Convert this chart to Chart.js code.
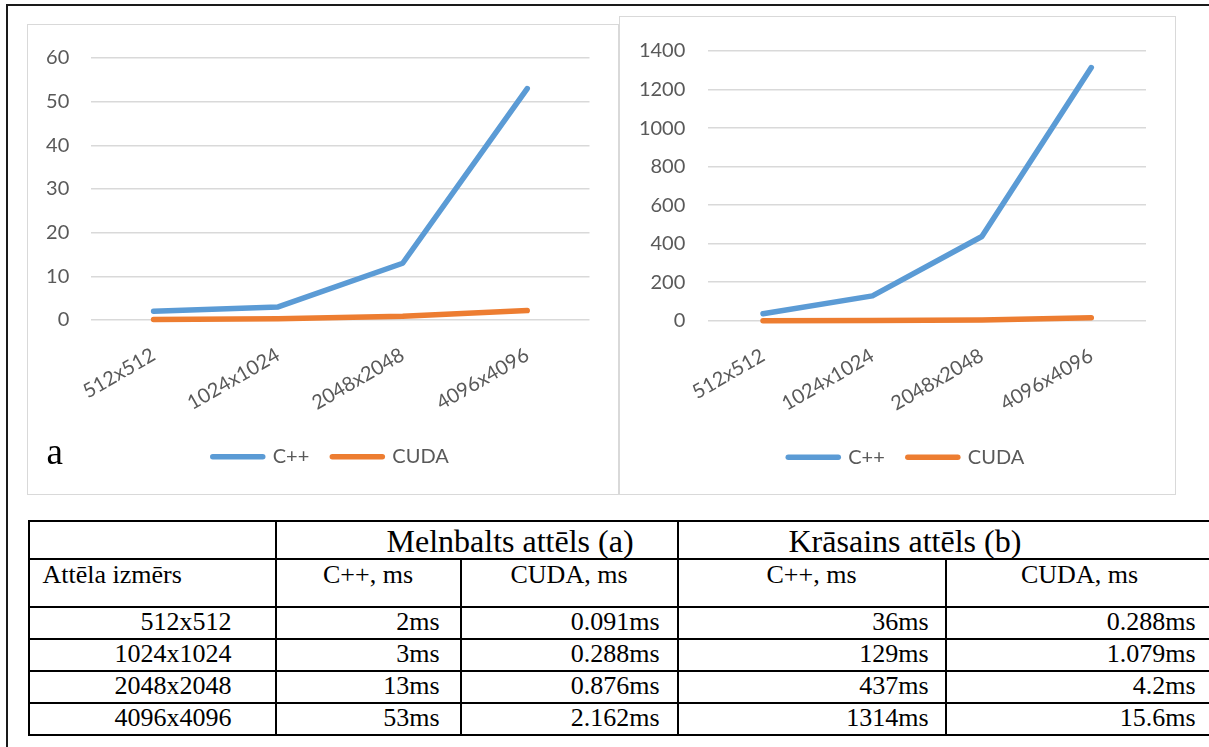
<!DOCTYPE html>
<html>
<head>
<meta charset="utf-8">
<script src="https://cdn.jsdelivr.net/npm/chart.js@4.4.0/dist/chart.umd.min.js"></script>
<style>
  html, body { margin: 0; padding: 0; background: #fff; overflow: hidden; width: 1209px; height: 747px; }
  .outer { position: absolute; left: 6px; top: 4px; width: 1300px; height: 800px; border-left: 2px solid #1a1a1a; border-top: 2px solid #1a1a1a; }
  .frame { position: absolute; box-sizing: border-box; border: 1.5px solid #d9d9d9; background: #fff; }
  .cv { position: absolute; }
  .tag { position: absolute; left: 46.5px; top: 433px; font: 37px/37px "Liberation Serif", "Times New Roman", serif; color: #000; }
  table { position: absolute; left: 27.5px; top: 520px; width: 1185px; border-collapse: collapse; table-layout: fixed; font-family: "Liberation Serif", "Times New Roman", serif; color: #000; }
  td { border: 2px solid #000; padding: 0; vertical-align: top; font-size: 26px; line-height: 22px; white-space: nowrap; overflow: hidden; }
  tr.h1 td { font-size: 32px; line-height: 30px; padding-top: 4px; height: 32px; }
  tr.h2 td { padding-top: 4px; height: 42px; text-align: center; }
  tr.h2 td.first { text-align: left; padding-left: 13px; }
  tr.d td { height: 27px; padding-top: 3px; text-align: right; }
</style>
</head>
<body>
<div class="outer"></div>
<div class="frame" style="left:27px;top:24px;width:592px;height:471px;"></div>
<div class="frame" style="left:619px;top:16px;width:557px;height:479px;"></div>
<div class="cv" style="left:27px;top:24px;width:591px;height:471px;"><canvas id="chartA"></canvas></div>
<div class="cv" style="left:619px;top:16px;width:557px;height:479px;"><canvas id="chartB"></canvas></div>
<div class="tag">a</div>
<table id="tbl">
  <colgroup>
    <col style="width:247px"><col style="width:185px"><col style="width:217px"><col style="width:268px"><col style="width:268px">
  </colgroup>
  <tbody id="tbody"></tbody>
</table>

<script>
// image sizes (x axis)
const sizes = ["512x512", "1024x1024", "2048x2048", "4096x4096"];
// (a) black & white image, ms
const cppGray = [2, 3, 13, 53];
const cudaGray = [0.091, 0.288, 0.876, 2.162];
// (b) colour image, ms
const cppColor = [36, 129, 437, 1314];
const cudaColor = [0.288, 1.079, 4.2, 15.6];
// y axis ticks
const yMaxA = 60, yStepA = 10;
const yMaxB = 1400, yStepB = 200;

const blue = "#5B9BD5";
const orange = "#ED7D31";
const gray = "#595959";
const lineW = 5.5;

Chart.defaults.font.family = "Lato";
Chart.defaults.font.size = 20;
Chart.defaults.color = gray;

function makeChart(id, cpp, cuda, yMax, yStep, lay) {
  const ctx = document.getElementById(id).getContext("2d");
  return new Chart(ctx, {
    type: "line",
    data: {
      labels: sizes,
      datasets: [
        { label: "C++", data: cpp, borderColor: blue, backgroundColor: blue },
        { label: "CUDA", data: cuda, borderColor: orange, backgroundColor: orange },
      ],
    },
    options: {
      responsive: true,
      maintainAspectRatio: false,
      animation: false,
      clip: false,
      elements: {
        line: { borderWidth: lineW, tension: 0, borderCapStyle: "round", borderJoinStyle: "round" },
        point: { radius: 0, hoverRadius: 0 },
      },
      layout: { padding: { top: lay.top, right: 0, bottom: lay.bottom, left: lay.left } },
      plugins: {
        tooltip: { enabled: false },
        legend: {
          position: "bottom",
          labels: {
            usePointStyle: true,
            pointStyle: "line",
            pointStyleWidth: 50,
            padding: 23,
            color: gray,
            font: { size: 20 },
            generateLabels: (chart) => {
              const items = Chart.defaults.plugins.legend.labels.generateLabels(chart);
              items.forEach((it) => {
                it.lineWidth = lineW;
                it.lineCap = "round";
              });
              return items;
            },
          },
        },
      },
      scales: {
        x: {
          offset: true,
          grid: { display: false, drawTicks: false },
          border: { display: false },
          ticks: { autoSkip: false, minRotation: 30, maxRotation: 30, padding: 23, color: gray },
          afterFit: (s) => { s.height = lay.xh; },
        },
        y: {
          min: 0,
          max: yMax,
          grid: { color: "#d9d9d9", lineWidth: 1.5, drawTicks: false },
          border: { display: false },
          ticks: { stepSize: yStep, padding: lay.tp, color: gray, callback: (v) => String(v) },
          afterFit: (s) => { s.width = lay.yw; },
        },
        // empty axis on the right, only keeps space so the legend stays centred like the original
        yRight: {
          type: "linear",
          position: "right",
          grid: { display: false, drawTicks: false },
          border: { display: false },
          ticks: { display: false },
          afterFit: (s) => { s.width = lay.rw; },
        },
      },
    },
  });
}

makeChart("chartA", cppGray, cudaGray, yMaxA, yStepA, { top: 29, bottom: 18.3, left: 16.5, xh: 103.7, yw: 47.8, tp: 22, rw: 28.5 });
makeChart("chartB", cppColor, cudaColor, yMaxB, yStepB, { top: 29, bottom: 17.7, left: 17.5, xh: 103.6, yw: 71.8, tp: 23, rw: 30 });

// table
const tbody = document.getElementById("tbody");
tbody.innerHTML =
  `<tr class="h1"><td></td><td colspan="2" style="padding-left:110px">Melnbalts attēls (a)</td><td colspan="2" style="padding-left:110px">Krāsains attēls (b)</td></tr>` +
  `<tr class="h2"><td class="first">Attēla izmērs</td><td>C++, ms</td><td>CUDA, ms</td><td>C++, ms</td><td>CUDA, ms</td></tr>`;
const padR = [43, 20, 17, 16, 17];
for (let i = 0; i < sizes.length; i++) {
  const vals = [sizes[i], cppGray[i] + "ms", cudaGray[i] + "ms", cppColor[i] + "ms", cudaColor[i] + "ms"];
  let row = `<tr class="d">`;
  for (let j = 0; j < vals.length; j++) {
    row += `<td style="padding-right:${padR[j]}px">${vals[j]}</td>`;
  }
  tbody.innerHTML += row + "</tr>";
}
</script>
</body>
</html>
